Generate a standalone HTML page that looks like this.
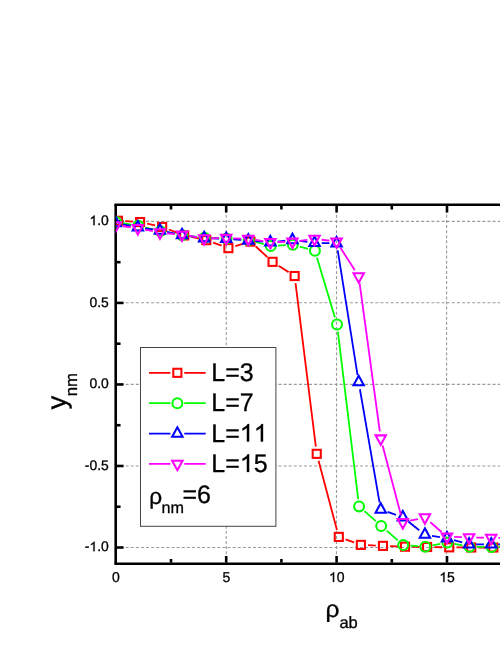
<!DOCTYPE html>
<html><head><meta charset="utf-8"><title>chart</title>
<style>
html,body{margin:0;padding:0;background:#fff;}
body{width:500px;height:647px;overflow:hidden;position:relative;font-family:"Liberation Sans",sans-serif;}
</style></head><body>
<svg width="500" height="647" viewBox="0 0 500 647" style="display:block;position:absolute;left:0;top:0;will-change:transform">
<defs><clipPath id="plot"><rect x="115.8" y="204.6" width="400" height="358.6"/></clipPath></defs>
<rect width="500" height="647" fill="#fff"/>
<g stroke="#9a9a9a" stroke-width="1.1" stroke-dasharray="3 2.096" fill="none"><line x1="226.25" y1="204.65" x2="226.25" y2="563.2"/><line x1="336.50" y1="204.65" x2="336.50" y2="563.2"/><line x1="446.60" y1="204.65" x2="446.60" y2="563.2"/><line x1="115.45" y1="221.35" x2="520" y2="221.35"/><line x1="115.45" y1="302.70" x2="520" y2="302.70"/><line x1="115.45" y1="384.40" x2="520" y2="384.40"/><line x1="115.45" y1="466.00" x2="520" y2="466.00"/><line x1="115.45" y1="547.50" x2="520" y2="547.50"/></g>
<g stroke="#000" fill="none"><line x1="114.4" y1="204.75" x2="520" y2="204.75" stroke-width="2.6"/><line x1="114.4" y1="563.75" x2="520" y2="563.75" stroke-width="2.6"/><line x1="115.7" y1="204.75" x2="115.7" y2="563.75" stroke-width="2.6"/><line x1="171.00" y1="205.9" x2="171.00" y2="209.50" stroke-width="2.6"/><line x1="171.00" y1="562.6" x2="171.00" y2="559.00" stroke-width="2.6"/><line x1="226.20" y1="205.9" x2="226.20" y2="212.50" stroke-width="2.6"/><line x1="226.20" y1="562.6" x2="226.20" y2="556.00" stroke-width="2.6"/><line x1="281.40" y1="205.9" x2="281.40" y2="209.50" stroke-width="2.6"/><line x1="281.40" y1="562.6" x2="281.40" y2="559.00" stroke-width="2.6"/><line x1="336.60" y1="205.9" x2="336.60" y2="212.50" stroke-width="2.6"/><line x1="336.60" y1="562.6" x2="336.60" y2="556.00" stroke-width="2.6"/><line x1="391.80" y1="205.9" x2="391.80" y2="209.50" stroke-width="2.6"/><line x1="391.80" y1="562.6" x2="391.80" y2="559.00" stroke-width="2.6"/><line x1="447.00" y1="205.9" x2="447.00" y2="212.50" stroke-width="2.6"/><line x1="447.00" y1="562.6" x2="447.00" y2="556.00" stroke-width="2.6"/><line x1="502.20" y1="205.9" x2="502.20" y2="209.50" stroke-width="2.6"/><line x1="502.20" y1="562.6" x2="502.20" y2="559.00" stroke-width="2.6"/><line x1="117" y1="221.40" x2="123.55" y2="221.40" stroke-width="2.6"/><line x1="117" y1="262.16" x2="120.55" y2="262.16" stroke-width="2.6"/><line x1="117" y1="302.92" x2="123.55" y2="302.92" stroke-width="2.6"/><line x1="117" y1="343.69" x2="120.55" y2="343.69" stroke-width="2.6"/><line x1="117" y1="384.45" x2="123.55" y2="384.45" stroke-width="2.6"/><line x1="117" y1="425.21" x2="120.55" y2="425.21" stroke-width="2.6"/><line x1="117" y1="465.98" x2="123.55" y2="465.98" stroke-width="2.6"/><line x1="117" y1="506.74" x2="120.55" y2="506.74" stroke-width="2.6"/><line x1="117" y1="547.50" x2="123.55" y2="547.50" stroke-width="2.6"/></g>
<g clip-path="url(#plot)">
<path d="M125.19 221.17L132.89 221.63M147.11 223.61L155.13 225.39M168.88 229.52L177.52 232.84M191.28 236.93L199.28 238.64M213.09 242.60L221.63 245.69M235.31 246.10L243.57 243.66M255.79 246.48L267.25 256.97M278.62 265.73L288.58 272.13M295.53 283.17L315.83 446.68M318.57 460.79L336.95 529.94M345.57 539.35L354.11 542.44M368.07 545.21L375.77 545.55M390.16 546.14L397.84 546.42M412.24 546.79L419.92 546.90M434.32 547.12L442.00 547.23M456.40 547.39L464.08 547.45M478.48 547.50L486.16 547.50M500.56 547.50L508.24 547.50" stroke="#ff0000" stroke-width="1.8" fill="none"/>
<rect x="113.95" y="216.70" width="8.1" height="8.1" fill="none" stroke="#ff0000" stroke-width="2.05"/>
<rect x="136.03" y="218.00" width="8.1" height="8.1" fill="none" stroke="#ff0000" stroke-width="2.05"/>
<rect x="158.11" y="222.89" width="8.1" height="8.1" fill="none" stroke="#ff0000" stroke-width="2.05"/>
<rect x="180.19" y="231.37" width="8.1" height="8.1" fill="none" stroke="#ff0000" stroke-width="2.05"/>
<rect x="202.27" y="236.10" width="8.1" height="8.1" fill="none" stroke="#ff0000" stroke-width="2.05"/>
<rect x="224.35" y="244.09" width="8.1" height="8.1" fill="none" stroke="#ff0000" stroke-width="2.05"/>
<rect x="246.43" y="237.57" width="8.1" height="8.1" fill="none" stroke="#ff0000" stroke-width="2.05"/>
<rect x="268.51" y="257.79" width="8.1" height="8.1" fill="none" stroke="#ff0000" stroke-width="2.05"/>
<rect x="290.59" y="271.97" width="8.1" height="8.1" fill="none" stroke="#ff0000" stroke-width="2.05"/>
<rect x="312.67" y="449.78" width="8.1" height="8.1" fill="none" stroke="#ff0000" stroke-width="2.05"/>
<rect x="334.75" y="532.85" width="8.1" height="8.1" fill="none" stroke="#ff0000" stroke-width="2.05"/>
<rect x="356.83" y="540.84" width="8.1" height="8.1" fill="none" stroke="#ff0000" stroke-width="2.05"/>
<rect x="378.91" y="541.82" width="8.1" height="8.1" fill="none" stroke="#ff0000" stroke-width="2.05"/>
<rect x="400.99" y="542.63" width="8.1" height="8.1" fill="none" stroke="#ff0000" stroke-width="2.05"/>
<rect x="423.07" y="542.96" width="8.1" height="8.1" fill="none" stroke="#ff0000" stroke-width="2.05"/>
<rect x="445.15" y="543.29" width="8.1" height="8.1" fill="none" stroke="#ff0000" stroke-width="2.05"/>
<rect x="467.23" y="543.45" width="8.1" height="8.1" fill="none" stroke="#ff0000" stroke-width="2.05"/>
<rect x="489.31" y="543.45" width="8.1" height="8.1" fill="none" stroke="#ff0000" stroke-width="2.05"/>
<rect x="511.39" y="543.45" width="8.1" height="8.1" fill="none" stroke="#ff0000" stroke-width="2.05"/>
<path d="M123.29 223.15L131.19 224.55M145.28 227.51L153.36 229.48M167.44 232.49L175.36 233.95M189.60 236.05L197.36 236.91M211.72 237.97L219.40 238.25M233.78 239.05L241.50 239.62M255.64 242.00L263.80 244.17M277.95 245.60L285.65 245.14M299.79 246.61L307.97 248.85M316.99 257.65L334.93 317.55M337.87 331.60L358.21 499.26M364.47 511.19L375.77 521.20M386.61 530.68L397.79 540.35M410.42 545.58L418.14 546.15M432.40 545.38L440.32 543.92M454.47 543.97L462.41 545.49M476.68 546.90L484.36 546.96M498.76 547.01L506.44 547.01" stroke="#00ff00" stroke-width="1.8" fill="none"/>
<circle cx="116.20" cy="221.89" r="4.95" fill="none" stroke="#00ff00" stroke-width="2.05"/>
<circle cx="138.28" cy="225.80" r="4.95" fill="none" stroke="#00ff00" stroke-width="2.05"/>
<circle cx="160.36" cy="231.18" r="4.95" fill="none" stroke="#00ff00" stroke-width="2.05"/>
<circle cx="182.44" cy="235.26" r="4.95" fill="none" stroke="#00ff00" stroke-width="2.05"/>
<circle cx="204.52" cy="237.70" r="4.95" fill="none" stroke="#00ff00" stroke-width="2.05"/>
<circle cx="226.60" cy="238.52" r="4.95" fill="none" stroke="#00ff00" stroke-width="2.05"/>
<circle cx="248.68" cy="240.15" r="4.95" fill="none" stroke="#00ff00" stroke-width="2.05"/>
<circle cx="270.76" cy="246.02" r="4.95" fill="none" stroke="#00ff00" stroke-width="2.05"/>
<circle cx="292.84" cy="244.72" r="4.95" fill="none" stroke="#00ff00" stroke-width="2.05"/>
<circle cx="314.92" cy="250.75" r="4.95" fill="none" stroke="#00ff00" stroke-width="2.05"/>
<circle cx="337.00" cy="324.45" r="4.95" fill="none" stroke="#00ff00" stroke-width="2.05"/>
<circle cx="359.08" cy="506.41" r="4.95" fill="none" stroke="#00ff00" stroke-width="2.05"/>
<circle cx="381.16" cy="525.98" r="4.95" fill="none" stroke="#00ff00" stroke-width="2.05"/>
<circle cx="403.24" cy="545.05" r="4.95" fill="none" stroke="#00ff00" stroke-width="2.05"/>
<circle cx="425.32" cy="546.68" r="4.95" fill="none" stroke="#00ff00" stroke-width="2.05"/>
<circle cx="447.40" cy="542.61" r="4.95" fill="none" stroke="#00ff00" stroke-width="2.05"/>
<circle cx="469.48" cy="546.85" r="4.95" fill="none" stroke="#00ff00" stroke-width="2.05"/>
<circle cx="491.56" cy="547.01" r="4.95" fill="none" stroke="#00ff00" stroke-width="2.05"/>
<circle cx="513.64" cy="547.01" r="4.95" fill="none" stroke="#00ff00" stroke-width="2.05"/>
<path d="M122.87 224.39L130.81 225.91M145.00 228.32L152.84 229.48M167.01 231.99L174.99 233.64M189.17 236.10L196.99 237.19M211.32 238.41L219.00 238.63M233.38 239.38L241.10 239.95M255.46 241.06L263.18 241.69M277.52 241.53L285.28 240.73M299.58 240.94L307.38 241.97M321.72 243.03L329.40 243.14M337.73 250.36L357.55 375.06M359.91 389.26L379.53 502.42M387.55 511.91L396.05 514.93M408.51 521.77L419.25 530.18M432.03 535.77L439.89 537.05M453.93 540.15L462.15 542.46M476.28 544.40L483.96 544.40M498.36 544.40L506.04 544.40" stroke="#0000ff" stroke-width="1.8" fill="none"/>
<polygon points="115.80,216.70 121.00,226.20 110.60,226.20" fill="none" stroke="#0000ff" stroke-width="2.05" stroke-linejoin="miter"/>
<polygon points="137.88,220.94 143.08,230.44 132.68,230.44" fill="none" stroke="#0000ff" stroke-width="2.05" stroke-linejoin="miter"/>
<polygon points="159.96,224.20 165.16,233.70 154.76,233.70" fill="none" stroke="#0000ff" stroke-width="2.05" stroke-linejoin="miter"/>
<polygon points="182.04,228.76 187.24,238.26 176.84,238.26" fill="none" stroke="#0000ff" stroke-width="2.05" stroke-linejoin="miter"/>
<polygon points="204.12,231.86 209.32,241.36 198.92,241.36" fill="none" stroke="#0000ff" stroke-width="2.05" stroke-linejoin="miter"/>
<polygon points="226.20,232.51 231.40,242.01 221.00,242.01" fill="none" stroke="#0000ff" stroke-width="2.05" stroke-linejoin="miter"/>
<polygon points="248.28,234.14 253.48,243.64 243.08,243.64" fill="none" stroke="#0000ff" stroke-width="2.05" stroke-linejoin="miter"/>
<polygon points="270.36,235.94 275.56,245.44 265.16,245.44" fill="none" stroke="#0000ff" stroke-width="2.05" stroke-linejoin="miter"/>
<polygon points="292.44,233.65 297.64,243.15 287.24,243.15" fill="none" stroke="#0000ff" stroke-width="2.05" stroke-linejoin="miter"/>
<polygon points="314.52,236.59 319.72,246.09 309.32,246.09" fill="none" stroke="#0000ff" stroke-width="2.05" stroke-linejoin="miter"/>
<polygon points="336.60,236.92 341.80,246.42 331.40,246.42" fill="none" stroke="#0000ff" stroke-width="2.05" stroke-linejoin="miter"/>
<polygon points="358.68,375.83 363.88,385.33 353.48,385.33" fill="none" stroke="#0000ff" stroke-width="2.05" stroke-linejoin="miter"/>
<polygon points="380.76,503.18 385.96,512.68 375.56,512.68" fill="none" stroke="#0000ff" stroke-width="2.05" stroke-linejoin="miter"/>
<polygon points="402.84,511.00 408.04,520.50 397.64,520.50" fill="none" stroke="#0000ff" stroke-width="2.05" stroke-linejoin="miter"/>
<polygon points="424.92,528.29 430.12,537.79 419.72,537.79" fill="none" stroke="#0000ff" stroke-width="2.05" stroke-linejoin="miter"/>
<polygon points="447.00,531.87 452.20,541.37 441.80,541.37" fill="none" stroke="#0000ff" stroke-width="2.05" stroke-linejoin="miter"/>
<polygon points="469.08,538.07 474.28,547.57 463.88,547.57" fill="none" stroke="#0000ff" stroke-width="2.05" stroke-linejoin="miter"/>
<polygon points="491.16,538.07 496.36,547.57 485.96,547.57" fill="none" stroke="#0000ff" stroke-width="2.05" stroke-linejoin="miter"/>
<polygon points="513.24,538.07 518.44,547.57 508.04,547.57" fill="none" stroke="#0000ff" stroke-width="2.05" stroke-linejoin="miter"/>
<path d="M122.94 226.26L130.74 227.30M144.95 229.61L152.89 231.13M167.12 233.23L174.88 234.03M189.15 235.92L197.01 237.20M211.32 238.25L219.00 238.14M233.40 238.30L241.08 238.58M255.40 239.90L263.24 241.06M277.56 242.00L285.24 241.89M299.58 240.83L307.38 239.80M321.66 239.74L329.46 240.72M340.46 247.69L354.82 270.27M359.65 283.48L379.79 431.38M382.60 445.48L401.00 515.27M409.88 520.72L417.88 519.01M430.35 522.23L441.57 532.01M454.20 536.95L461.88 537.18M476.28 537.55L483.96 537.72M498.36 537.88L506.04 537.88" stroke="#ff00ff" stroke-width="1.8" fill="none"/>
<polygon points="115.80,231.65 121.00,222.15 110.60,222.15" fill="none" stroke="#ff00ff" stroke-width="2.05" stroke-linejoin="miter"/>
<polygon points="137.88,234.58 143.08,225.08 132.68,225.08" fill="none" stroke="#ff00ff" stroke-width="2.05" stroke-linejoin="miter"/>
<polygon points="159.96,238.82 165.16,229.32 154.76,229.32" fill="none" stroke="#ff00ff" stroke-width="2.05" stroke-linejoin="miter"/>
<polygon points="182.04,241.10 187.24,231.60 176.84,231.60" fill="none" stroke="#ff00ff" stroke-width="2.05" stroke-linejoin="miter"/>
<polygon points="204.12,244.69 209.32,235.19 198.92,235.19" fill="none" stroke="#ff00ff" stroke-width="2.05" stroke-linejoin="miter"/>
<polygon points="226.20,244.36 231.40,234.86 221.00,234.86" fill="none" stroke="#ff00ff" stroke-width="2.05" stroke-linejoin="miter"/>
<polygon points="248.28,245.18 253.48,235.68 243.08,235.68" fill="none" stroke="#ff00ff" stroke-width="2.05" stroke-linejoin="miter"/>
<polygon points="270.36,248.44 275.56,238.94 265.16,238.94" fill="none" stroke="#ff00ff" stroke-width="2.05" stroke-linejoin="miter"/>
<polygon points="292.44,248.11 297.64,238.61 287.24,238.61" fill="none" stroke="#ff00ff" stroke-width="2.05" stroke-linejoin="miter"/>
<polygon points="314.52,245.18 319.72,235.68 309.32,235.68" fill="none" stroke="#ff00ff" stroke-width="2.05" stroke-linejoin="miter"/>
<polygon points="336.60,247.95 341.80,238.45 331.40,238.45" fill="none" stroke="#ff00ff" stroke-width="2.05" stroke-linejoin="miter"/>
<polygon points="358.68,282.68 363.88,273.18 353.48,273.18" fill="none" stroke="#ff00ff" stroke-width="2.05" stroke-linejoin="miter"/>
<polygon points="380.76,444.85 385.96,435.35 375.56,435.35" fill="none" stroke="#ff00ff" stroke-width="2.05" stroke-linejoin="miter"/>
<polygon points="402.84,528.56 408.04,519.06 397.64,519.06" fill="none" stroke="#ff00ff" stroke-width="2.05" stroke-linejoin="miter"/>
<polygon points="424.92,523.83 430.12,514.33 419.72,514.33" fill="none" stroke="#ff00ff" stroke-width="2.05" stroke-linejoin="miter"/>
<polygon points="447.00,543.07 452.20,533.57 441.80,533.57" fill="none" stroke="#ff00ff" stroke-width="2.05" stroke-linejoin="miter"/>
<polygon points="469.08,543.72 474.28,534.22 463.88,534.22" fill="none" stroke="#ff00ff" stroke-width="2.05" stroke-linejoin="miter"/>
<polygon points="491.16,544.21 496.36,534.71 485.96,534.71" fill="none" stroke="#ff00ff" stroke-width="2.05" stroke-linejoin="miter"/>
<polygon points="513.24,544.21 518.44,534.71 508.04,534.71" fill="none" stroke="#ff00ff" stroke-width="2.05" stroke-linejoin="miter"/>
</g>
<g font-family="Liberation Sans, sans-serif" text-rendering="geometricPrecision" stroke="#000" stroke-width="0.3" stroke-linejoin="round" font-kerning="none" fill="#000"><g transform="translate(0 225.15) scale(1 1.0000)" font-size="13.9"><path fill="#000" d="M94.61 0.00L93.38 0.00L93.38 -7.48Q92.94 -7.08 92.23 -6.67Q91.51 -6.27 90.94 -6.07L90.94 -7.20Q91.97 -7.66 92.73 -8.32Q93.50 -8.98 93.82 -9.60L94.61 -9.60Z"/><text x="97.16" y="0">.0</text></g><g transform="translate(0 306.67) scale(1 1.0000)" font-size="13.9"><text x="89.43" y="0">0.5</text></g><g transform="translate(0 388.20) scale(1 1.0000)" font-size="13.9"><text x="89.43" y="0">0.0</text></g><g transform="translate(0 469.73) scale(1 1.0000)" font-size="13.9"><text x="84.80" y="0">-0.5</text></g><g transform="translate(0 551.25) scale(1 1.0000)" font-size="13.9"><text x="84.80" y="0">-</text><path fill="#000" d="M94.61 0.00L93.38 0.00L93.38 -7.48Q92.94 -7.08 92.23 -6.67Q91.51 -6.27 90.94 -6.07L90.94 -7.20Q91.97 -7.66 92.73 -8.32Q93.50 -8.98 93.82 -9.60L94.61 -9.60Z"/><text x="97.16" y="0">.0</text></g><g transform="translate(0 582.00) scale(1 1.0150)" font-size="14"><text x="112.01" y="0">0</text></g><g transform="translate(0 582.00) scale(1 1.0150)" font-size="14"><text x="222.41" y="0">5</text></g><g transform="translate(0 582.00) scale(1 1.0150)" font-size="14"><path fill="#000" d="M334.13 0.00L332.90 0.00L332.90 -7.54Q332.45 -7.13 331.73 -6.72Q331.01 -6.31 330.44 -6.11L330.44 -7.25Q331.47 -7.72 332.24 -8.38Q333.02 -9.05 333.34 -9.67L334.13 -9.67Z"/><text x="336.70" y="0">0</text></g><g transform="translate(0 582.00) scale(1 1.0150)" font-size="14"><path fill="#000" d="M444.53 0.00L443.30 0.00L443.30 -7.54Q442.85 -7.13 442.13 -6.72Q441.41 -6.31 440.84 -6.11L440.84 -7.25Q441.87 -7.72 442.64 -8.38Q443.42 -9.05 443.74 -9.67L444.53 -9.67Z"/><text x="447.10" y="0">5</text></g></g>
<text font-family="Liberation Sans, sans-serif" text-rendering="geometricPrecision" stroke="#000" stroke-width="0.3" stroke-linejoin="round" font-size="27.5" fill="#000" transform="translate(65.6,409.4) rotate(-90)">y<tspan font-size="16.8" dy="11.2" dx="-0.7">nm</tspan></text>
<g font-family="Liberation Sans, sans-serif" text-rendering="geometricPrecision" stroke="#000" stroke-width="0.3" stroke-linejoin="round" fill="#000"><text font-size="23.6" transform="translate(325.5 617.2) scale(1.04 1)">ρ</text><text font-size="16.5" x="339.4" y="627.8">ab</text></g>
<rect x="140.5" y="347.5" width="135.4" height="178.8" fill="#fff" stroke="#444" stroke-width="1"/>
<path d="M149 372.8L170.4 372.8M184.3 372.8L205.7 372.8" stroke="#ff0000" stroke-width="1.7" fill="none"/>
<rect x="173.30" y="368.75" width="8.1" height="8.1" fill="none" stroke="#ff0000" stroke-width="2.05"/>
<g font-family="Liberation Sans, sans-serif" text-rendering="geometricPrecision" stroke="#000" stroke-width="0.3" stroke-linejoin="round" font-kerning="none" fill="#000"><g transform="translate(0 380.80) scale(1 1.0200)" font-size="25"><text x="211.30" y="0">L=3</text></g></g>
<path d="M149 403.2L170.4 403.2M184.3 403.2L205.7 403.2" stroke="#00ff00" stroke-width="1.7" fill="none"/>
<circle cx="177.35" cy="403.20" r="4.95" fill="none" stroke="#00ff00" stroke-width="2.05"/>
<g font-family="Liberation Sans, sans-serif" text-rendering="geometricPrecision" stroke="#000" stroke-width="0.3" stroke-linejoin="round" font-kerning="none" fill="#000"><g transform="translate(0 411.20) scale(1 1.0200)" font-size="25"><text x="211.30" y="0">L=7</text></g></g>
<path d="M149 433.6L170.4 433.6M184.3 433.6L205.7 433.6" stroke="#0000ff" stroke-width="1.7" fill="none"/>
<polygon points="177.35,427.27 182.55,436.77 172.15,436.77" fill="none" stroke="#0000ff" stroke-width="2.05" stroke-linejoin="miter"/>
<g font-family="Liberation Sans, sans-serif" text-rendering="geometricPrecision" stroke="#000" stroke-width="0.3" stroke-linejoin="round" font-kerning="none" fill="#000"><g transform="translate(0 441.60) scale(1 1.0200)" font-size="25"><text x="211.30" y="0">L=</text><path fill="#000" d="M249.12 0.00L246.92 0.00L246.92 -13.46Q246.13 -12.73 244.84 -12.00Q243.55 -11.27 242.53 -10.91L242.53 -12.95Q244.37 -13.79 245.75 -14.97Q247.13 -16.16 247.70 -17.27L249.12 -17.27Z"/><path fill="#000" d="M263.02 0.00L260.82 0.00L260.82 -13.46Q260.03 -12.73 258.74 -12.00Q257.45 -11.27 256.43 -10.91L256.43 -12.95Q258.27 -13.79 259.65 -14.97Q261.03 -16.16 261.61 -17.27L263.02 -17.27Z"/></g></g>
<path d="M149 463.9L170.4 463.9M184.3 463.9L205.7 463.9" stroke="#ff00ff" stroke-width="1.7" fill="none"/>
<polygon points="177.35,470.23 182.55,460.73 172.15,460.73" fill="none" stroke="#ff00ff" stroke-width="2.05" stroke-linejoin="miter"/>
<g font-family="Liberation Sans, sans-serif" text-rendering="geometricPrecision" stroke="#000" stroke-width="0.3" stroke-linejoin="round" font-kerning="none" fill="#000"><g transform="translate(0 471.90) scale(1 1.0200)" font-size="25"><text x="211.30" y="0">L=</text><path fill="#000" d="M249.12 0.00L246.92 0.00L246.92 -13.46Q246.13 -12.73 244.84 -12.00Q243.55 -11.27 242.53 -10.91L242.53 -12.95Q244.37 -13.79 245.75 -14.97Q247.13 -16.16 247.70 -17.27L249.12 -17.27Z"/><text x="253.71" y="0">5</text></g></g>
<g font-family="Liberation Sans, sans-serif" text-rendering="geometricPrecision" stroke="#000" stroke-width="0.3" stroke-linejoin="round" font-kerning="none" fill="#000"><text font-size="22.6" x="149.3" y="504.0">ρ</text><text font-size="16.2" x="161.5" y="512.7">nm</text><g transform="translate(0 502.90) scale(1 1.0200)" font-size="25"><text x="182.40" y="0">=6</text></g></g>
</svg>
</body></html>
